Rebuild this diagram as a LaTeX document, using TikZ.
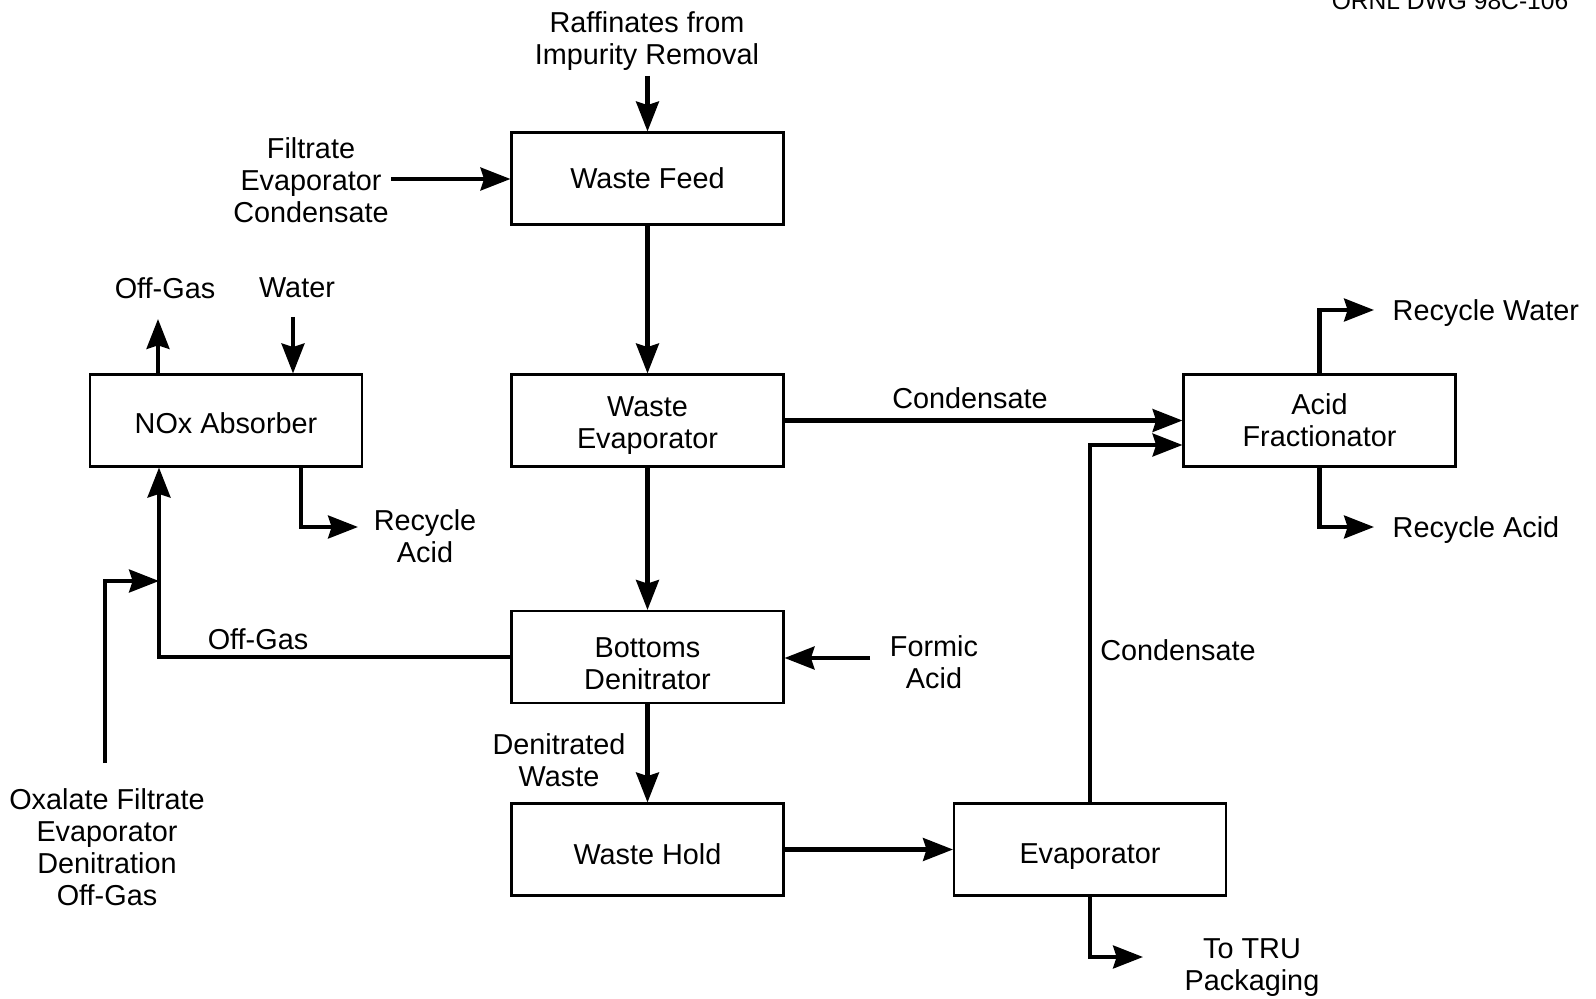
\documentclass[tikz,border=0pt]{standalone}
\usepackage{fontspec}
\setmainfont{Liberation Sans}
\usetikzlibrary{arrows.meta}

\tikzset{
  every node/.style={font=\fontsize{8.2pt}{9.1pt}\selectfont},
  unit/.style={draw, line width=0.6pt, minimum width=2.72cm, minimum height=0.92cm, align=center, inner sep=0pt},
  lbl/.style={align=center, inner sep=0pt},
  stream/.style={line width=1.15pt, -{Stealth[length=8.5pt,width=6.5pt,inset=1pt]}},
}

\begin{document}
\begin{tikzpicture}
\useasboundingbox (0,0) rectangle (15.96,9.98);

% process units
\node[unit] (wf) at (6.475,8.195) {Waste Feed};
\node[unit, text height=16.2pt, text depth=0pt] (we) at (6.475,5.775) {Waste\\Evaporator};
\node[unit, text height=18.4pt, text depth=0pt] (bd) at (6.475,3.41) {Bottoms\\Denitrator};
\node[unit, text height=8.8pt, text depth=0pt] (wh) at (6.475,1.485) {Waste Hold};
\node[unit, text height=8.2pt, text depth=0pt] (ev) at (10.90,1.485) {Evaporator};
\node[unit] (af) at (13.195,5.775) {Acid\\Fractionator};
\node[unit, text height=7.2pt, text depth=0pt] (nox) at (2.26,5.775) {NOx Absorber};

% free ends
\coordinate (rafEnd) at (6.475,9.22);
\coordinate (filtEnd) at (3.91,8.19);
\coordinate (truEnd) at (11.43,0.41);
\coordinate (rwEnd) at (13.74,6.88);
\coordinate (raEnd) at (13.74,4.71);
\coordinate (fmStart) at (8.70,3.40);
\coordinate (oxStart) at (1.05,2.35);
\coordinate (oxEnd) at (1.59,4.17);
\coordinate (ogEnd) at (1.58,6.79);
\coordinate (wStart) at (2.93,6.81);
\coordinate (nraEnd) at (3.58,4.71);

% labels
\node[lbl] (raf) at (6.47,9.57) {Raffinates from\\Impurity Removal};
\node[lbl] (filt) at (3.11,8.18) {Filtrate\\Evaporator\\Condensate};
\node[lbl] (ogLbl) at (1.65,7.10) {Off-Gas};
\node[lbl] (waterLbl) at (2.97,7.10) {Water};
\node[lbl] (nraLbl) at (4.25,4.62) {Recycle\\Acid};
\node[lbl] (condTop) at (9.70,6.00) {Condensate};
\node[lbl] (condMid) at (11.78,3.48) {Condensate};
\node[lbl, anchor=west] (rwLbl) at (13.92,6.85) {Recycle Water};
\node[lbl, anchor=west] (raLbl) at (13.92,4.68) {Recycle Acid};
\node[lbl] (fmLbl) at (9.34,3.36) {Formic\\Acid};
\node[lbl] (ogIn) at (2.58,3.59) {Off-Gas};
\node[lbl] (denLbl) at (5.59,2.38) {Denitrated\\Waste};
\node[lbl] (oxLbl) at (1.07,1.51) {Oxalate Filtrate\\Evaporator\\Denitration\\Off-Gas};
\node[lbl] (truLbl) at (12.52,0.305) {To TRU\\Packaging};
\node[lbl, anchor=base, font=\fontsize{7pt}{8pt}\selectfont] (dwg) at (14.50,9.88) {ORNL DWG 98C-106};

% streams
\draw[stream] (rafEnd) -- (wf.north);
\draw[stream] (filtEnd) -- (filtEnd -| wf.west);
\draw[stream] (wf) -- (we);
\draw[stream] (we) -- (bd);
\draw[stream] (bd) -- (wh);
\draw[stream] (wh) -- (ev);
\draw[stream] (we) -- (af);
\draw[stream] (ev.north) |- ([yshift=-0.245cm]af.west);
\draw[stream] (ev.south) |- (truEnd);
\draw[stream] (af.north) |- (rwEnd);
\draw[stream] (af.south) |- (raEnd);
\draw[stream] (fmStart) -- (fmStart -| bd.east);
\draw[stream] (bd.west) -| (oxEnd |- nox.south);
\draw[stream] (oxStart) |- (oxEnd);
\draw[stream] (ogEnd |- nox.north) -- (ogEnd);
\draw[stream] (wStart) -- (wStart |- nox.north);
\draw[stream] ([xshift=0.75cm]nox.south) |- (nraEnd);
\end{tikzpicture}
\end{document}
